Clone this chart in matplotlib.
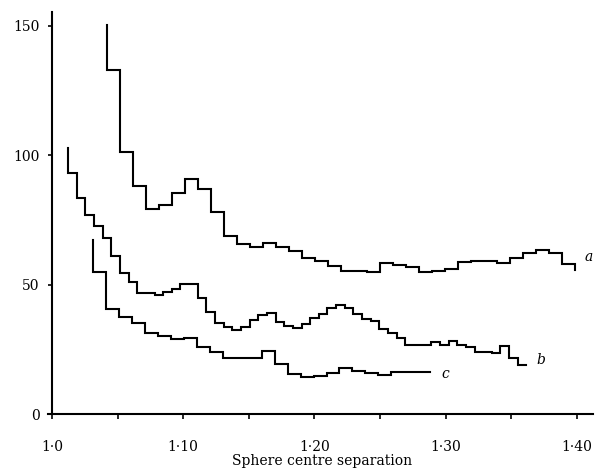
import matplotlib
matplotlib.use("Agg")
import matplotlib.pyplot as plt
import numpy as np

plt.rcParams['font.family'] = ['DejaVu Serif']

# histogram a: start, bin width, values
a_start, a_width = 1.042, 0.0099
a_top, a_tail = 150.4, 55.7
a_vals = [133, 101.2, 88.1, 79.2, 80.8, 85.5, 91.0, 87.1, 78.2, 68.8,
          65.7, 64.7, 66.2, 64.7, 63.1, 60.2, 59.1, 57.2, 55.4, 55.3,
          55.0, 58.5, 57.6, 56.7, 55.0, 55.3, 56.0, 58.9, 59.1, 59.1,
          58.5, 60.2, 62.4, 63.4, 62.1, 58.0]

# histogram b
b_start, b_width = 1.0122, 0.00659
b_top = 102.7
b_vals = [93, 83.4, 76.8, 72.6, 68, 61, 54.6, 51.1, 46.9, 46.9,
          46.0, 47.3, 48.3, 50.4, 50.4, 44.7, 39.6, 35.0, 33.6, 32.5,
          33.7, 36.3, 38.3, 39.2, 35.7, 34.0, 33.1, 34.8, 37.0, 38.7,
          40.9, 42.1, 40.9, 38.7, 36.6, 36.1, 32.7, 31.5, 29.5, 26.7,
          26.7, 26.7, 27.9, 26.7, 28.3, 26.7, 26.0, 24.1, 24.1, 23.7,
          26.3, 21.5, 18.9]

# histogram c
c_start, c_width = 1.0315, 0.00987
c_top = 67.3
c_vals = [54.8, 40.6, 37.4, 35.0, 31.4, 30.1, 28.8, 29.2, 25.8, 24.1,
          21.5, 21.5, 21.5, 24.4, 19.3, 15.5, 14.4, 14.8, 15.7, 17.6,
          16.7, 16.0, 15.1, 16.3, 16.3, 16.3]

x_ticks = [1.0, 1.1, 1.2, 1.3, 1.4]
x_ticklabels = ["1·0", "1·10", "1·20", "1·30", "1·40"]
y_ticks = [0, 50, 100, 150]


def draw_hist(ax, start, width, vals, top, tail=None):
    vals = np.asarray(vals, dtype=float)
    edges = start + width * np.arange(len(vals) + 1)
    last = vals[-1] if tail is None else tail
    xs = np.concatenate([[edges[0]], edges])
    ys = np.concatenate([[top], vals, [last]])
    ax.plot(xs, ys, drawstyle="steps-post", color="black", lw=1.5,
            solid_joinstyle="miter", clip_on=False)
    return edges[-1]


fig = plt.figure(figsize=(5.99, 4.69), dpi=100)
ax = fig.add_axes([52 / 599, 55 / 469, 541 / 599, 402 / 469])

draw_hist(ax, a_start, a_width, a_vals, a_top, a_tail)
draw_hist(ax, b_start, b_width, b_vals, b_top)
draw_hist(ax, c_start, c_width, c_vals, c_top)

ax.text(1.409, 60.5, "a", style="italic", fontsize=10, ha="center", va="center")
ax.text(1.3726, 21.0, "b", style="italic", fontsize=10, ha="center", va="center")
ax.text(1.2994, 15.5, "c", style="italic", fontsize=10, ha="center", va="center")

ax.set_xlim(1.0, 1.4122)
ax.set_ylim(0, 155.4)
ax.spines["top"].set_visible(False)
ax.spines["right"].set_visible(False)
for s in ("left", "bottom"):
    ax.spines[s].set_linewidth(1.5)
ax.spines["bottom"].set_bounds(0.997, 1.4122)

ax.set_xticks(x_ticks)
ax.set_xticklabels(x_ticklabels)
ax.set_xticks([1.05, 1.15, 1.25, 1.35], minor=True)
ax.set_yticks(y_ticks)
ax.tick_params(axis="x", which="both", direction="out", length=3.5, width=1.2,
               pad=15, labelsize=10)
ax.tick_params(axis="y", direction="out", length=3, width=1.2, pad=6, labelsize=10)
ax.set_xlabel("Sphere centre separation", fontsize=10, labelpad=0)

fig.savefig("out.png", dpi=100, facecolor="white")
